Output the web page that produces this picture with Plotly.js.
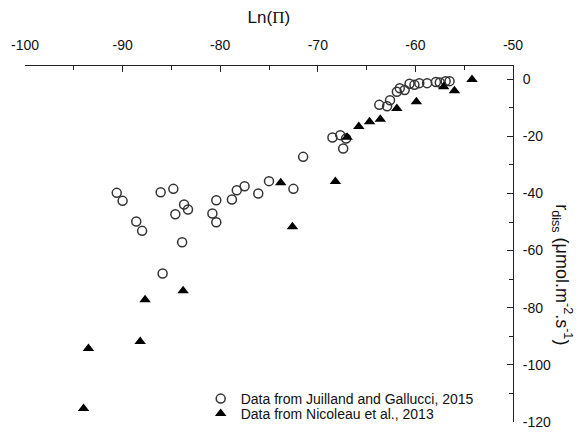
<!DOCTYPE html>
<html>
<head>
<meta charset="utf-8">
<script src="https://cdn.plot.ly/plotly-3.0.1.min.js"></script>
<style>html,body{margin:0;padding:0;background:#fff;}#chart{width:587px;height:432px;}</style>
</head>
<body>
<div id="chart"></div>
<script>
// Data from Juilland and Gallucci, 2015 (open circles)
var juillandX = [-90.6,-90.0,-88.6,-88.0,-86.1,-85.9,-84.8,-84.6,-83.9,-83.7,-83.3,-80.8,-80.4,-80.4,-78.8,-78.3,-77.5,-76.1,-75.0,-72.5,-71.5,-68.5,-67.7,-67.4,-67.1,-63.7,-62.9,-62.6,-61.9,-61.6,-61.1,-60.6,-60.1,-59.6,-58.8,-57.9,-57.5,-56.9,-56.5];
var juillandY = [-39.8,-42.6,-49.8,-53.1,-39.6,-68.0,-38.4,-47.3,-57.1,-43.9,-45.6,-47.0,-42.4,-50.1,-42.1,-38.9,-37.5,-40.0,-35.7,-38.4,-27.2,-20.4,-19.6,-24.3,-20.8,-9.0,-9.5,-7.4,-4.4,-3.2,-3.8,-1.6,-2.0,-1.4,-1.4,-1.0,-1.2,-0.7,-0.7];
// Data from Nicoleau et al., 2013 (filled triangles)
var nicoleauX = [-94.0,-93.5,-88.2,-87.7,-83.8,-73.8,-72.6,-68.2,-67.0,-65.8,-64.7,-63.6,-61.9,-59.9,-57.1,-56.0,-54.2];
var nicoleauY = [-115.3,-94.3,-91.8,-77.2,-74.1,-36.3,-51.7,-35.8,-20.3,-16.6,-14.9,-14.0,-10.3,-7.9,-2.7,-4.1,-0.1];
var seriesNames = ["Data from Juilland and Gallucci, 2015", "Data from Nicoleau et al., 2013"];
var xTicks = [-100,-90,-80,-70,-60,-50];
var yTicks = [0,-20,-40,-60,-80,-100,-120];

var traces = [
  {x: juillandX, y: juillandY, type: 'scatter', mode: 'markers', name: seriesNames[0], legend: 'legend',
   marker: {symbol: 'circle-open', size: 9, color: '#333', line: {width: 1.5, color: '#333'}}},
  {x: nicoleauX, y: nicoleauY, type: 'scatter', mode: 'markers', name: seriesNames[1], legend: 'legend2',
   marker: {symbol: 'triangle-up', size: 10, color: '#000'}}
];

var fam = 'Liberation Sans, Arial, sans-serif';
var font = {family: fam, size: 14, color: '#111'};
var legFont = {family: fam, size: 14, color: '#111'};
var layout = {
  width: 587, height: 432,
  margin: {l: 25, r: 74, t: 66, b: 10, pad: 0, autoexpand: false},
  paper_bgcolor: '#fff', plot_bgcolor: '#fff',
  font: font,
  showlegend: true,
  legend: {x: 0.36, y: 0.0646, xanchor: 'left', yanchor: 'middle', bgcolor: 'rgba(0,0,0,0)', font: legFont},
  legend2: {x: 0.36, y: 0.0225, xanchor: 'left', yanchor: 'middle', bgcolor: 'rgba(0,0,0,0)', font: legFont},
  title: {text: 'Ln(<span style="font-family:Liberation Serif">Π</span>)', x: 0.458, xanchor: 'center', y: 0.96, yanchor: 'middle',
          font: {family: fam, size: 17, color: '#111'}},
  xaxis: {side: 'top', range: [-100, -50], tickvals: xTicks, ticktext: xTicks.map(String),
          ticks: 'inside', ticklen: 6, tickwidth: 1, tickcolor: '#222', ticklabelstandoff: 9,
          showline: true, linecolor: '#222', linewidth: 1, mirror: false, automargin: false,
          showgrid: false, zeroline: false, tickfont: font,
          minor: {dtick: 5, tick0: -100, ticks: 'inside', ticklen: 4, tickcolor: '#222', showgrid: false}},
  yaxis: {side: 'right', range: [-120, 4.6], tickvals: yTicks, ticktext: yTicks.map(String),
          ticks: 'inside', ticklen: 6, tickwidth: 1, tickcolor: '#222', ticklabelstandoff: 6,
          showline: true, linecolor: '#222', linewidth: 1, mirror: false, automargin: false,
          showgrid: false, zeroline: false, tickfont: font,
          minor: {dtick: 10, tick0: 0, ticks: 'inside', ticklen: 4, tickcolor: '#222', showgrid: false}},
  annotations: [{
    text: 'r<sub>diss</sub> (μmol.m<sup>-2</sup>.s<sup>-1</sup>)',
    xref: 'paper', yref: 'paper', x: 1.1, y: 0.413, xanchor: 'center', yanchor: 'middle',
    textangle: 90, showarrow: false,
    font: {family: fam, size: 18, color: '#111'}
  }]
};

Plotly.newPlot('chart', traces, layout, {displayModeBar: false, staticPlot: true});
</script>
</body>
</html>
